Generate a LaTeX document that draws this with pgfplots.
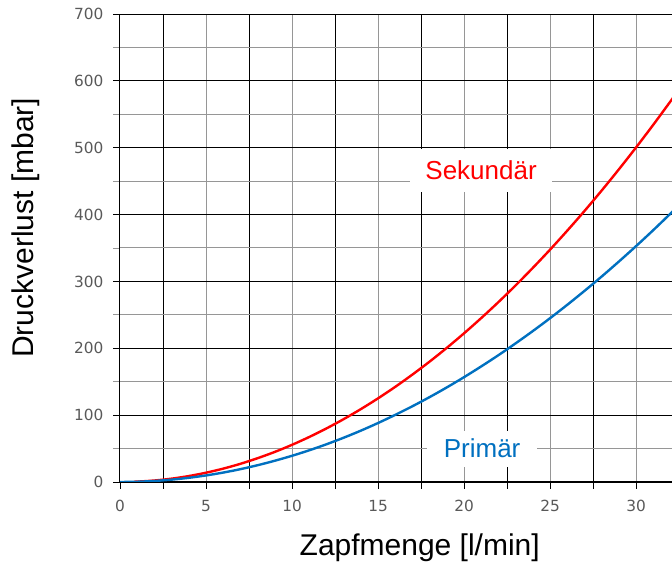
\documentclass[border=0pt]{standalone}
\usepackage{fontspec}
\setmainfont{Liberation Sans}
\newfontfamily\tickfont{DejaVu Sans}
\usepackage{pgfplots}
\pgfplotsset{compat=1.18}
\definecolor{prim}{RGB}{0,112,192}
\definecolor{sek}{RGB}{255,0,0}
\definecolor{ticktext}{RGB}{89,89,89}
\definecolor{gridgray}{RGB}{150,150,150}
\begin{document}
\begin{tikzpicture}
\begin{axis}[
	scale only axis,
	width=414pt,
	height=351pt,
	xmin=0, xmax=32.09,
	ymin=0, ymax=700,
	xtick={0,5,...,30},
	minor xtick={2.5,7.5,...,32.5},
	ytick={0,100,...,700},
	minor ytick={50,150,...,650},
	axis x line*=bottom,
	axis y line*=left,
	axis line style={black, line width=0.75pt, -},
	tick align=outside,
	major tick length=5pt,
	minor tick length=5pt,
	tick style={black, line width=0.6pt},
	minor x tick style={black},
	minor y tick style={gridgray},
	grid=both,
	major x grid style={gridgray, line width=0.75pt},
	minor x grid style={black, line width=0.6pt},
	major y grid style={black, line width=0.6pt},
	minor y grid style={gridgray, line width=0.75pt},
	/pgf/number format/assume math mode=true,
	ticklabel style={font=\tickfont\fontsize{11.5}{13}\selectfont, text=ticktext},
	xticklabel style={yshift=-5pt},
	yticklabel style={xshift=-4pt},
	xlabel={Zapfmenge [l/min]},
	ylabel={Druckverlust [mbar]},
	label style={font=\fontsize{22.5}{26}\selectfont},
	xlabel style={at={(axis description cs:0.543,0)}, anchor=center, yshift=-49.5pt},
	ylabel style={at={(axis description cs:0,0.543)}, anchor=center, rotate=0, xshift=0pt, yshift=70.5pt},
	clip=true,
]
\addplot[sek, line width=1.8pt, smooth] coordinates {
	(0.8,0.4) (1,0.56) (2,2.22) (3,5.0) (4,8.9) (5,13.9) (6,20.0) (7,27.2) (8,35.6)
	(9,45.0) (10,55.6) (11,67.3) (12,80.1) (13,94.0) (14,109.0) (15,125.1)
	(16,142.3) (17,160.7) (18,180.1) (19,200.7) (20,222.4) (21,245.2)
	(22,269.1) (23,294.1) (24,320.3) (25,347.5) (26,375.9) (27,405.3)
	(28,435.9) (29,467.6) (30,500.4) (31,534.3) (32,569.3) (32.2,576.5)
};
\addplot[prim, line width=1.8pt, smooth] coordinates {
	(0,0) (1,0.39) (2,1.57) (3,3.53) (4,6.27) (5,9.8) (6,14.1) (7,19.2) (8,25.1)
	(9,31.8) (10,39.2) (11,47.4) (12,56.4) (13,66.2) (14,76.8) (15,88.2)
	(16,100.4) (17,113.3) (18,127.0) (19,141.5) (20,156.8) (21,172.9)
	(22,189.7) (23,207.4) (24,225.8) (25,245.0) (26,265.0) (27,285.8)
	(28,307.3) (29,329.7) (30,352.8) (31,376.7) (32,401.4) (32.2,406.4)
};
\node[fill=white, text=sek, font=\fontsize{19.5}{22}\selectfont, minimum width=106.5pt, minimum height=32pt, inner sep=0pt] at (axis cs:20.99,466) {Sekundär};
\node[fill=white, text=prim, font=\fontsize{19.5}{22}\selectfont, minimum width=82.5pt, minimum height=27pt, inner sep=0pt] at (axis cs:21.05,50) {Primär};
\coordinate (sw) at (rel axis cs:0,0);
\coordinate (ne) at (rel axis cs:1,1);
\end{axis}
\pgfresetboundingbox
\path ([shift={(-90pt,-69pt)}]sw) rectangle ([shift={(0pt,10.5pt)}]ne);
\end{tikzpicture}
\end{document}
